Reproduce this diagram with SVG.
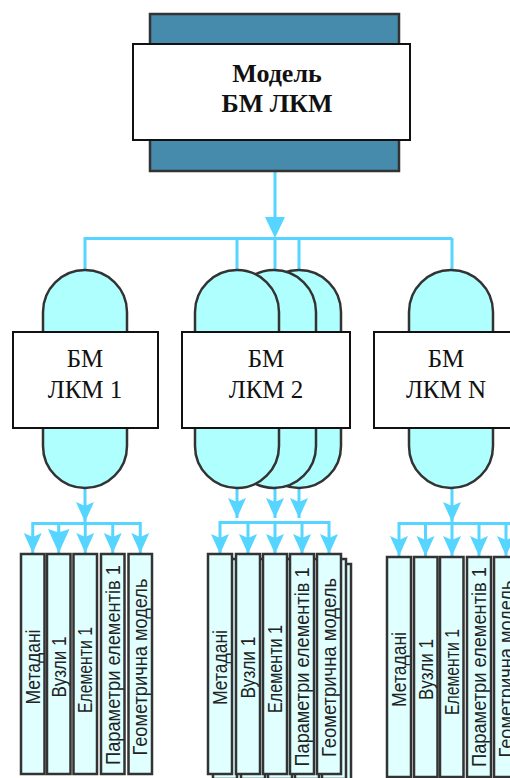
<svg xmlns="http://www.w3.org/2000/svg" width="510" height="778" viewBox="0 0 510 778">
<defs>
<style>
.top{fill:#468BAB;stroke:#333;stroke-width:2.5}
.wb{fill:#fff;stroke:#111;stroke-width:2}
.cap{fill:#B0FFFF;stroke:#333;stroke-width:2.5}
.col{fill:#E0FFFF;stroke:#333;stroke-width:2.5}
.ln{stroke:#55D5FF;stroke-width:3;fill:none}
.ah{fill:#55D5FF;stroke:none}
.t1{font-family:"Liberation Serif","Times New Roman",serif;font-weight:bold;font-size:26px;fill:#111;text-anchor:middle}
.t2{font-family:"Liberation Serif","Times New Roman",serif;font-size:25px;fill:#111;text-anchor:middle}
.t3{font-family:"Liberation Sans",Arial,sans-serif;font-size:20px;fill:#222;text-anchor:middle}
</style>
<marker id="a" viewBox="0 0 20 18" refX="20" refY="9" markerWidth="20" markerHeight="19" orient="auto" markerUnits="userSpaceOnUse">
<path d="M0,0 L20,9 L0,18 L4,9 Z" class="ah"/>
</marker>
<marker id="ab" viewBox="0 0 20 18" refX="20" refY="9" markerWidth="24" markerHeight="23" orient="auto" markerUnits="userSpaceOnUse">
<path d="M0,0 L20,9 L0,18 L3,9 Z" class="ah"/>
</marker>
<path id="capsule" d="M-42,42 A42,42 0 0 1 42,42 L42,176 A42,42 0 0 1 -42,176 Z"/>
</defs>

<g id="connectors">
<line class="ln" x1="275" y1="172" x2="275" y2="220"/>
<polygon class="ah" points="265,217 285,217 275,238"/>
<line class="ln" x1="85" y1="238.5" x2="452" y2="238.5"/>
<line class="ln" x1="85" y1="237" x2="85" y2="271"/>
<line class="ln" x1="237" y1="238" x2="237" y2="271"/>
<line class="ln" x1="275" y1="238" x2="275" y2="271"/>
<line class="ln" x1="299" y1="238" x2="299" y2="271"/>
<line class="ln" x1="452" y1="238" x2="452" y2="271"/>

<line class="ln" x1="85" y1="488" x2="85" y2="522" marker-end="url(#a)"/>
<line class="ln" x1="32.75" y1="523.5" x2="140.25" y2="523.5"/>
<line class="ln" x1="32.75" y1="522" x2="32.75" y2="553" marker-end="url(#a)"/>
<line class="ln" x1="58.75" y1="522" x2="58.75" y2="553" marker-end="url(#ab)"/>
<line class="ln" x1="85.25" y1="522" x2="85.25" y2="553" marker-end="url(#a)"/>
<line class="ln" x1="112.75" y1="522" x2="112.75" y2="553" marker-end="url(#a)"/>
<line class="ln" x1="140.25" y1="522" x2="140.25" y2="553" marker-end="url(#a)"/>

<line class="ln" x1="237" y1="488" x2="237" y2="518" marker-end="url(#a)"/>
<line class="ln" x1="275" y1="488" x2="275" y2="518" marker-end="url(#a)"/>
<line class="ln" x1="299" y1="488" x2="299" y2="518" marker-end="url(#a)"/>
<line class="ln" x1="220" y1="522.5" x2="329" y2="522.5"/>
<line class="ln" x1="220" y1="521" x2="220" y2="554" marker-end="url(#a)"/>
<line class="ln" x1="248" y1="521" x2="248" y2="554" marker-end="url(#a)"/>
<line class="ln" x1="275" y1="521" x2="275" y2="554" marker-end="url(#a)"/>
<line class="ln" x1="302" y1="521" x2="302" y2="554" marker-end="url(#a)"/>
<line class="ln" x1="329" y1="521" x2="329" y2="554" marker-end="url(#a)"/>

<line class="ln" x1="452" y1="488" x2="452" y2="522" marker-end="url(#a)"/>
<line class="ln" x1="399" y1="523.5" x2="510" y2="523.5"/>
<line class="ln" x1="399" y1="522" x2="399" y2="556" marker-end="url(#a)"/>
<line class="ln" x1="425.5" y1="522" x2="425.5" y2="556" marker-end="url(#a)"/>
<line class="ln" x1="452" y1="522" x2="452" y2="556" marker-end="url(#a)"/>
<line class="ln" x1="479" y1="522" x2="479" y2="556" marker-end="url(#a)"/>
<line class="ln" x1="506" y1="522" x2="506" y2="556" marker-end="url(#a)"/>
</g>

<g id="model">
<rect class="top" x="150" y="14" width="249" height="157"/>
<rect class="wb" x="133" y="44" width="277" height="96"/>
<text class="t1" x="277" y="82">Модель</text>
<text class="t1" x="277" y="112">БМ ЛКМ</text>
</g>

<g id="bm1">
<use href="#capsule" class="cap" transform="translate(85,270)"/>
<rect class="wb" x="13" y="332" width="145" height="96"/>
<text class="t2" x="85" y="367">БМ</text>
<text class="t2" x="85" y="398">ЛКМ 1</text>
</g>

<g id="bm2">
<use href="#capsule" class="cap" transform="translate(299,270)"/>
<use href="#capsule" class="cap" transform="translate(274,270)"/>
<use href="#capsule" class="cap" transform="translate(237,270)"/>
<rect class="wb" x="182" y="332" width="168" height="96"/>
<text class="t2" x="266" y="367">БМ</text>
<text class="t2" x="266" y="398">ЛКМ 2</text>
</g>

<g id="bmN">
<use href="#capsule" class="cap" transform="translate(451,270)"/>
<rect class="wb" x="374" y="332" width="145" height="96"/>
<text class="t2" x="446" y="367">БМ</text>
<text class="t2" x="446" y="398">ЛКМ N</text>
</g>

<g id="cols1">
<rect class="col" x="21" y="554" width="23.5" height="220"/>
<rect class="col" x="47" y="554" width="23.5" height="220"/>
<rect class="col" x="73.5" y="554" width="23.5" height="220"/>
<rect class="col" x="101" y="554" width="23.5" height="220"/>
<rect class="col" x="128.5" y="554" width="23.5" height="220"/>
<text class="t3" transform="translate(39.5,667) rotate(-90)" textLength="75" lengthAdjust="spacingAndGlyphs">Метадані</text>
<text class="t3" transform="translate(65.5,667) rotate(-90)" textLength="61" lengthAdjust="spacingAndGlyphs">Вузли 1</text>
<text class="t3" transform="translate(92,670) rotate(-90)" textLength="86" lengthAdjust="spacingAndGlyphs">Елементи 1</text>
<text class="t3" transform="translate(119.5,665) rotate(-90)" textLength="200" lengthAdjust="spacingAndGlyphs">Параметри елементів 1</text>
<text class="t3" transform="translate(147,667) rotate(-90)" textLength="177" lengthAdjust="spacingAndGlyphs">Геометрична модель</text>
</g>

<g id="cols2">
<g transform="translate(10,10)">
<rect class="col" x="208" y="554" width="24" height="220"/>
<rect class="col" x="236" y="554" width="24" height="220"/>
<rect class="col" x="263" y="554" width="24" height="220"/>
<rect class="col" x="290" y="554" width="24" height="220"/>
<rect class="col" x="317" y="554" width="24" height="220"/>
</g>
<g transform="translate(5,5)">
<rect class="col" x="208" y="554" width="24" height="220"/>
<rect class="col" x="236" y="554" width="24" height="220"/>
<rect class="col" x="263" y="554" width="24" height="220"/>
<rect class="col" x="290" y="554" width="24" height="220"/>
<rect class="col" x="317" y="554" width="24" height="220"/>
</g>
<rect class="col" x="208" y="554" width="24" height="220"/>
<rect class="col" x="236" y="554" width="24" height="220"/>
<rect class="col" x="263" y="554" width="24" height="220"/>
<rect class="col" x="290" y="554" width="24" height="220"/>
<rect class="col" x="317" y="554" width="24" height="220"/>
<text class="t3" transform="translate(227,667.5) rotate(-90)" textLength="75" lengthAdjust="spacingAndGlyphs">Метадані</text>
<text class="t3" transform="translate(255,667.5) rotate(-90)" textLength="62" lengthAdjust="spacingAndGlyphs">Вузли 1</text>
<text class="t3" transform="translate(282,669) rotate(-90)" textLength="88" lengthAdjust="spacingAndGlyphs">Елементи 1</text>
<text class="t3" transform="translate(309,667) rotate(-90)" textLength="199" lengthAdjust="spacingAndGlyphs">Параметри елементів 1</text>
<text class="t3" transform="translate(336,667.5) rotate(-90)" textLength="179" lengthAdjust="spacingAndGlyphs">Геометрична модель</text>
</g>

<g id="colsN">
<rect class="col" x="387" y="557" width="24" height="220"/>
<rect class="col" x="414" y="557" width="23.5" height="220"/>
<rect class="col" x="440" y="557" width="23.5" height="220"/>
<rect class="col" x="467" y="557" width="24" height="220"/>
<rect class="col" x="494" y="557" width="24" height="220"/>
<text class="t3" transform="translate(406,669.5) rotate(-90)" textLength="75" lengthAdjust="spacingAndGlyphs">Метадані</text>
<text class="t3" transform="translate(432.5,669.5) rotate(-90)" textLength="61" lengthAdjust="spacingAndGlyphs">Вузли 1</text>
<text class="t3" transform="translate(458.5,672) rotate(-90)" textLength="86" lengthAdjust="spacingAndGlyphs">Елементи 1</text>
<text class="t3" transform="translate(486,667) rotate(-90)" textLength="200" lengthAdjust="spacingAndGlyphs">Параметри елементів 1</text>
<text class="t3" transform="translate(513,669) rotate(-90)" textLength="177" lengthAdjust="spacingAndGlyphs">Геометрична модель</text>
</g>
</svg>
